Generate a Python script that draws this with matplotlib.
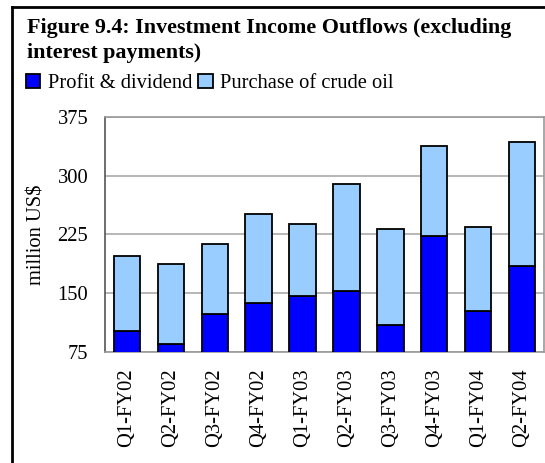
import matplotlib
matplotlib.use("Agg")
import matplotlib.pyplot as plt
from matplotlib.lines import Line2D
from matplotlib.patches import Patch

quarters = ["Q1-FY02", "Q2-FY02", "Q3-FY02", "Q4-FY02", "Q1-FY03",
            "Q2-FY03", "Q3-FY03", "Q4-FY03", "Q1-FY04", "Q2-FY04"]
profit = [102, 85, 124, 138, 146, 153, 110, 223, 127, 185]
crude = [95, 102, 89, 113, 93, 137, 122, 115, 108, 158]
yticks = [75, 150, 225, 300, 375]

plt.rcParams['font.family'] = ['Liberation Serif', 'DejaVu Serif']

fig = plt.figure(figsize=(5.45, 4.63), dpi=100)
ax = fig.add_axes([105/545, 111/463, 439/545, 235/463])

x = range(len(quarters))
ax.bar(x, profit, width=0.6, color="#0000FF", edgecolor="black", linewidth=1.3, zorder=3)
ax.bar(x, crude, width=0.6, bottom=profit, color="#99CCFF", edgecolor="black",
       linewidth=1.3, zorder=3)

ax.set_ylim(75, 375)
ax.set_xlim(-0.5, len(quarters) - 0.5)
ax.set_yticks(yticks)
ax.set_xticks(list(x))
ax.set_xticklabels(quarters, rotation=90)
ax.tick_params(axis="both", length=0, labelsize=14.8)
ax.tick_params(axis="y", pad=12)
ax.tick_params(axis="x", pad=12)
ax.yaxis.grid(True, color="#aaaaaa", linewidth=1.2, zorder=0)
for s in ax.spines.values():
    s.set_color("#999999")
    s.set_linewidth(1.2)
ax.spines["left"].set_color("#555555")
ax.set_ylabel("million US$", fontsize=14.8, labelpad=8)

fig.text(27/545, 1 - 33/463, "Figure 9.4: Investment Income Outflows (excluding",
         fontsize=15.8, fontweight="bold", va="baseline")
fig.text(27/545, 1 - 58/463, "interest payments)",
         fontsize=15.8, fontweight="bold", va="baseline")

handles = [Patch(facecolor="#0000FF", edgecolor="black", linewidth=1.3),
           Patch(facecolor="#99CCFF", edgecolor="black", linewidth=1.3)]
fig.legend(handles, ["Profit & dividend", "Purchase of crude oil"], ncol=2,
           frameon=False, loc="upper left", bbox_to_anchor=(26/545, 1 - 74/463),
           handlelength=0.7, handleheight=0.7, handletextpad=0.35,
           columnspacing=0.3, fontsize=14.8, borderaxespad=0, borderpad=0)

# outer frame (left and top edges)
fig.add_artist(Line2D([11.5/545, 11.5/545], [0, 1 - 6.5/463], color="black",
                      linewidth=2, transform=fig.transFigure))
fig.add_artist(Line2D([11.5/545, 1], [1 - 6.5/463, 1 - 6.5/463], color="black",
                      linewidth=2, transform=fig.transFigure))

fig.savefig("out.png", dpi=100)
